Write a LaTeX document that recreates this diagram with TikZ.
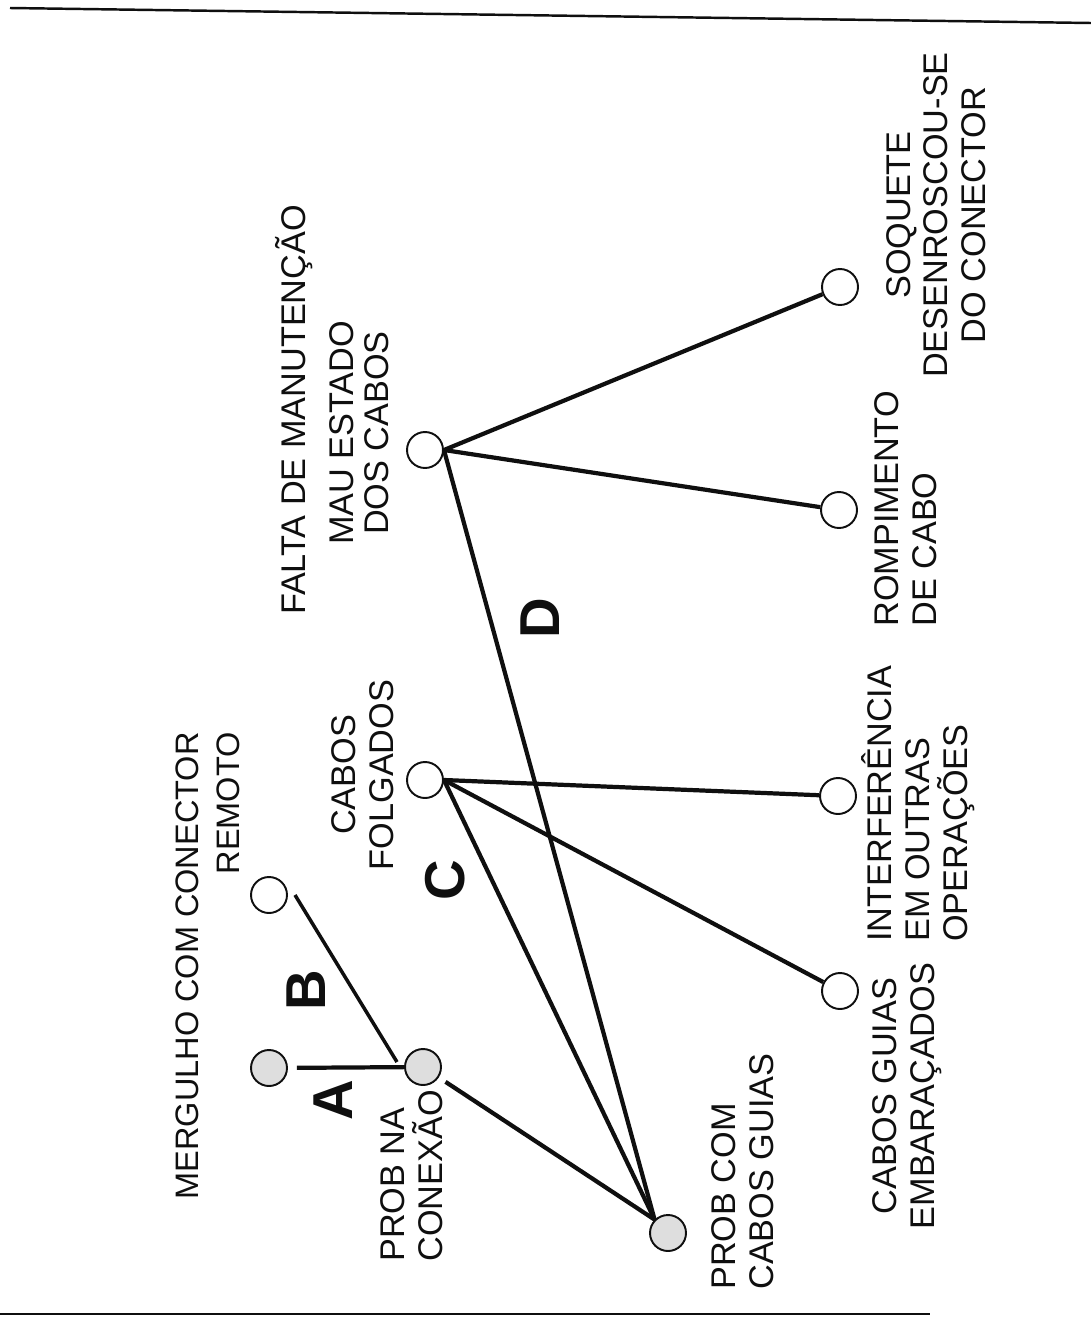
\documentclass[tikz,border=0pt]{standalone}
\usepackage{fontspec}
\setmainfont{Liberation Sans}
\usetikzlibrary{positioning}
\definecolor{ink}{RGB}{15,15,15}
\definecolor{stipple}{RGB}{222,222,222}
\tikzset{
  event/.style={
    circle, draw=ink, line width=1.1pt, minimum size=0.72cm,
    inner sep=0pt, fill=white
  },
  basic/.style={event, fill=stipple},
  branch/.style={draw=ink, line width=2.4pt},
  tag/.style={rotate=90, inner sep=0pt, text=ink,
    font=\fontsize{19.5}{21.5}\selectfont},
  letter/.style={rotate=90, inner sep=0pt, text=ink,
    font=\fontsize{32}{34}\selectfont\bfseries},
  rule/.style={draw=ink, line width=1.4pt},
}

\begin{document}
\begin{tikzpicture}[x=0.02cm, y=-0.02cm]
  \useasboundingbox (0,0) rectangle (1091,1322);
  \draw[rule] (10,8) -- (1091,23);
  \draw[rule] (0,1314) -- (930,1314);

  % events
  \node[basic] (root) at (668,1233) {};
  \node[basic] (conexao) at (423,1067) {};
  \node[basic] (nodeA) at (269,1068) {};
  \node[event] (remoto) at (269,895) {};
  \node[event] (folgados) at (425,780) {};
  \node[event] (falta) at (425,450) {};
  \node[event] (embaracados) at (840,991) {};
  \node[event] (interferencia) at (838,796) {};
  \node[event] (rompimento) at (839,510) {};
  \node[event] (soquete) at (840,287) {};

  % labels
  \node[tag, align=left, anchor=west] (rootlbl) at (743,1290) {PROB COM\\CABOS GUIAS};
  \node[tag, align=left, anchor=west] (conexaolbl) at (412,1262) {PROB NA\\CONEXÃO};
  \node[tag, align=right, anchor=east, font=\fontsize{18.5}{23}\selectfont] (remotolbl) at (208,732) {MERGULHO COM CONECTOR\\REMOTO};
  \node[tag, align=center] (folgadoslbl) at (363,775) {CABOS\\FOLGADOS};
  \node[tag] (faltalbl) at (294,410) {FALTA DE MANUTENÇÃO};
  \node[tag, align=center, font=\fontsize{19.5}{19.9}\selectfont] (estadolbl) at (359,433) {MAU ESTADO\\DOS CABOS};
  \node[tag, align=center] (embaracadoslbl) at (907,1096) {CABOS GUIAS\\EMBARAÇADOS};
  \node[tag, align=left, anchor=west] (interferencialbl) at (918,942) {INTERFERÊNCIA\\EM OUTRAS\\OPERAÇÕES};
  \node[tag, align=left, anchor=west] (rompimentolbl) at (906,627) {ROMPIMENTO\\DE CABO};
  \node[tag, align=center] (soquetelbl) at (936,215) {SOQUETE\\DESENROSCOU-SE\\DO CONECTOR};

  \node[letter] (lA) at (333,1100) {A};
  \node[letter] (lB) at (306,990) {B};
  \node[letter] (lC) at (445,880) {C};
  \node[letter] (lD) at (540,618) {D};

  % branches
  \draw[branch, shorten >=0.16cm] (root.135) -- (conexao);
  \draw[branch] (root.135) -- (folgados.east);
  \draw[branch] (root.135) -- (falta.east);
  \draw[branch, shorten <=0.18cm] (nodeA) -- (conexao);
  \draw[branch, line width=2pt] ([xshift=0.52cm]remoto.center) -- ([xshift=-0.52cm, yshift=0.1cm]conexao.center);
  \draw[branch] (folgados.east) -- (embaracados);
  \draw[branch] (folgados.east) -- (interferencia);
  \draw[branch] (falta.east) -- (rompimento);
  \draw[branch] (falta.east) -- (soquete);
\end{tikzpicture}
\end{document}
